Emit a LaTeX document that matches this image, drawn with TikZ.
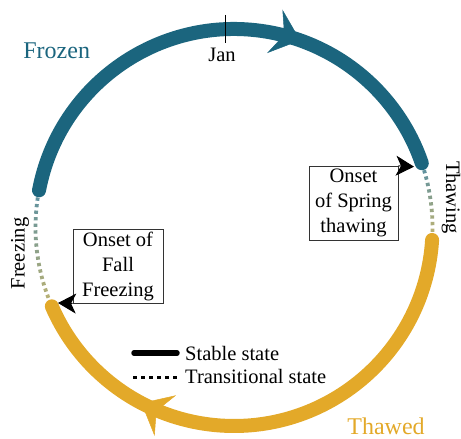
\documentclass[tikz,border=0pt]{standalone}
\usepackage{fontspec}
\setmainfont{Liberation Serif}
\usetikzlibrary{arrows.meta}
\definecolor{frozenC}{RGB}{27,101,126}
\definecolor{thawC}{RGB}{227,169,41}
\definecolor{dotTop}{RGB}{98,146,158}
\definecolor{dotBot}{RGB}{182,176,118}
\begin{document}
\begin{tikzpicture}[x=1pt,y=1pt,
  stable/.style={line width=14pt, line cap=round},
  bigtip/.style={line width=0.5pt, -{Stealth[length=27pt,width=46pt,inset=10pt]}},
  boxtip/.style={line width=0.9pt, -{Stealth[length=18pt,width=20pt,inset=5pt]}},
  onsetbox/.style={draw=black!80, line width=0.9pt, minimum width=90pt, minimum height=74pt, inner sep=0pt, align=center, font=\fontsize{20.5}{25}\selectfont},
  lbl/.style={font=\fontsize{20.5}{25}\selectfont, inner sep=0pt},
  biglbl/.style={font=\fontsize{24}{28}\selectfont, inner sep=0pt}]
\useasboundingbox (0,0) rectangle (461,439);
\coordinate (C) at (234,211.5);
\def\R{198.5}
% stable arcs
\draw[stable, frozenC] (C) ++(169.2:\R) arc[start angle=169.2, end angle=18.9, radius=\R];
\draw[stable, thawC] (C) ++(-3.6:\R) arc[start angle=-3.6, end angle=-156.6, radius=\R];
% arrowheads on arcs
\draw[bigtip, frozenC] (C) ++(84:\R) arc[start angle=84, end angle=70.5, radius=\R];
\draw[bigtip, thawC] (C) ++(-104:\R) arc[start angle=-104, end angle=-117.8, radius=\R];
% transitional (dotted) arcs with colour gradient
\foreach \i in {0,...,15}{
  \pgfmathsetmacro{\a}{171.3+\i*1.9}
  \pgfmathsetmacro{\b}{\a+0.95}
  \pgfmathsetmacro{\p}{100-\i*100/15}
  \draw[line width=3.8pt, color=dotTop!\p!dotBot] (C) ++(\a:\R) arc[start angle=\a, end angle=\b, radius=\R];
}
\foreach \i in {0,...,9}{
  \pgfmathsetmacro{\a}{16.8-\i*1.9}
  \pgfmathsetmacro{\b}{\a-0.95}
  \pgfmathsetmacro{\p}{100-\i*100/9}
  \draw[line width=3.8pt, color=dotTop!\p!dotBot] (C) ++(\a:\R) arc[start angle=\a, end angle=\b, radius=\R];
}
% Jan tick
\coordinate (janT) at (225,424);
\coordinate (janB) at (225,396);
\draw[line width=0.8pt] (janT) -- (janB);
% labels
\node[lbl, anchor=base] (jan) at (222,377) {Jan};
\node[biglbl, text=frozenC, anchor=base] (frozen) at (56.7,380) {Frozen};
\node[biglbl, text=thawC, anchor=base] (thawed) at (386,4) {Thawed};
\node[lbl, rotate=-90, anchor=base] (thawing) at (446,241.5) {Thawing};
\node[lbl, rotate=90, anchor=base] (freezing) at (24.5,185.5) {Freezing};
% onset boxes
\node[onsetbox, minimum width=89pt] (spring) at (353.5,235.7) {Onset\\of Spring\\thawing};
\node[onsetbox] (fall) at (118,173) {Onset of\\Fall\\Freezing};
\coordinate (stip) at (414,272.3);
\draw[boxtip] (spring.north east) -- (stip);
\coordinate (ftip) at (58,136);
\draw[boxtip] (fall.south west) -- (ftip);
% legend
\coordinate (s1) at (134,86);
\coordinate (s2) at (177,86);
\draw[line width=5.5pt, line cap=round] (s1) -- (s2);
\coordinate (t1) at (133,61.3);
\coordinate (t2) at (177,61.3);
\draw[line width=3pt, dash pattern=on 4pt off 4pt] (t1) -- (t2);
\node[lbl, anchor=base west] (stab) at (185,78.3) {Stable state};
\node[lbl, anchor=base west] (trans) at (185,55) {Transitional state};
\end{tikzpicture}
\end{document}
